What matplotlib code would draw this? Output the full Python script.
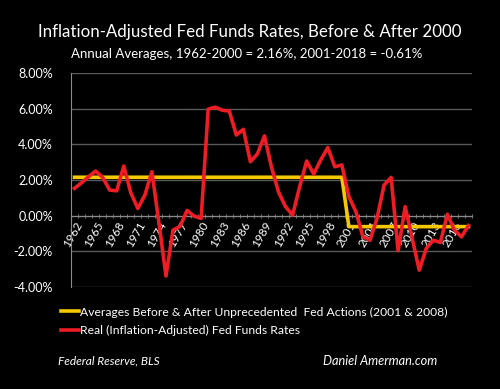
import matplotlib.pyplot as plt

# annual real fed funds rate
years = list(range(1962, 2019))
real_rates = [1.54, 1.85, 2.19, 2.51, 2.15, 1.44, 1.40, 2.79, 1.29, 0.41,
              1.16, 2.47, -0.40, -3.38, -0.80, -0.60, 0.30, -0.02, -0.15, 5.98,
              6.09, 5.92, 5.87, 4.53, 4.85, 3.03, 3.47, 4.48, 2.72, 1.33,
              0.51, 0.04, 1.63, 3.07, 2.34, 3.13, 3.82, 2.75, 2.85, 1.07,
              0.23, -1.18, -1.37, -0.15, 1.72, 2.15, -1.96, 0.51, -1.27, -3.05,
              -1.83, -1.37, -1.50, 0.08, -0.80, -1.18, -0.55]
avg_before = 2.16
avg_after = -0.61
averages = [avg_before if y <= 2000 else avg_after for y in years]
y_ticks = [-4, -2, 0, 2, 4, 6, 8]

title = 'Inflation-Adjusted Fed Funds Rates, Before & After 2000'
subtitle = 'Annual Averages, 1962-2000 = 2.16%, 2001-2018 = -0.61%'
label_avg = 'Averages Before & After Unprecedented  Fed Actions (2001 & 2008)'
label_real = 'Real (Inflation-Adjusted) Fed Funds Rates'

plt.rcParams['font.family'] = ['Lato', 'DejaVu Sans']

fig = plt.figure(figsize=(5, 3.89), dpi=100, facecolor='black')
ax = fig.add_axes([0.142, 0.262, 0.802, 0.55], facecolor='black')

x = list(range(len(years)))
ax.plot(x, averages, color='#F5C800', lw=2.6, label=label_avg, zorder=3)
ax.plot(x, real_rates, color='#EE1C24', lw=2.6, label=label_real, zorder=4)

ax.set_xlim(-0.5, len(years) - 0.5)
ax.set_ylim(-4, 8)
ax.set_yticks(y_ticks)
ax.set_yticklabels(['%.2f%%' % v for v in y_ticks], color='white', fontsize=9)
ax.tick_params(axis='y', length=0, pad=13)
ax.grid(axis='y', color='#5a5a5a', lw=1)
ax.set_axisbelow(True)

# category axis crossing at zero
ax.spines['bottom'].set_position(('data', 0))
ax.spines['bottom'].set_color('#8a8a8a')
ax.spines['left'].set_color('#8a8a8a')
ax.spines['top'].set_visible(False)
ax.spines['right'].set_visible(False)
ax.set_xticks([i - 0.5 for i in range(len(years) + 1)], minor=True)
ax.tick_params(axis='x', which='minor', length=3, color='#8a8a8a', direction='inout')
ax.set_xticks(x[::3])
ax.set_xticklabels([str(y) for y in years[::3]], rotation=60, ha='right',
                   rotation_mode='anchor', color='white', fontsize=8.5)
ax.tick_params(axis='x', which='major', length=0, pad=3)

fig.text(0.5, 0.918, title, color='white', fontsize=12.2, ha='center', va='center')
fig.text(0.494, 0.862, subtitle, color='white', fontsize=9.5, ha='center', va='center')

fig.legend(loc='upper left', bbox_to_anchor=(0.1, 0.24), frameon=False,
           handlelength=1.5, handletextpad=0.1, labelspacing=0.6,
           fontsize=8.7, labelcolor='white')

fig.text(0.116, 0.072, 'Federal Reserve, BLS', color='white', fontsize=8.6,
         style='italic', va='center')
fig.text(0.646, 0.072, 'Daniel Amerman.com', color='white', fontsize=9.2,
         style='italic', va='center')

fig.savefig('out.png', dpi=100, facecolor='black')
